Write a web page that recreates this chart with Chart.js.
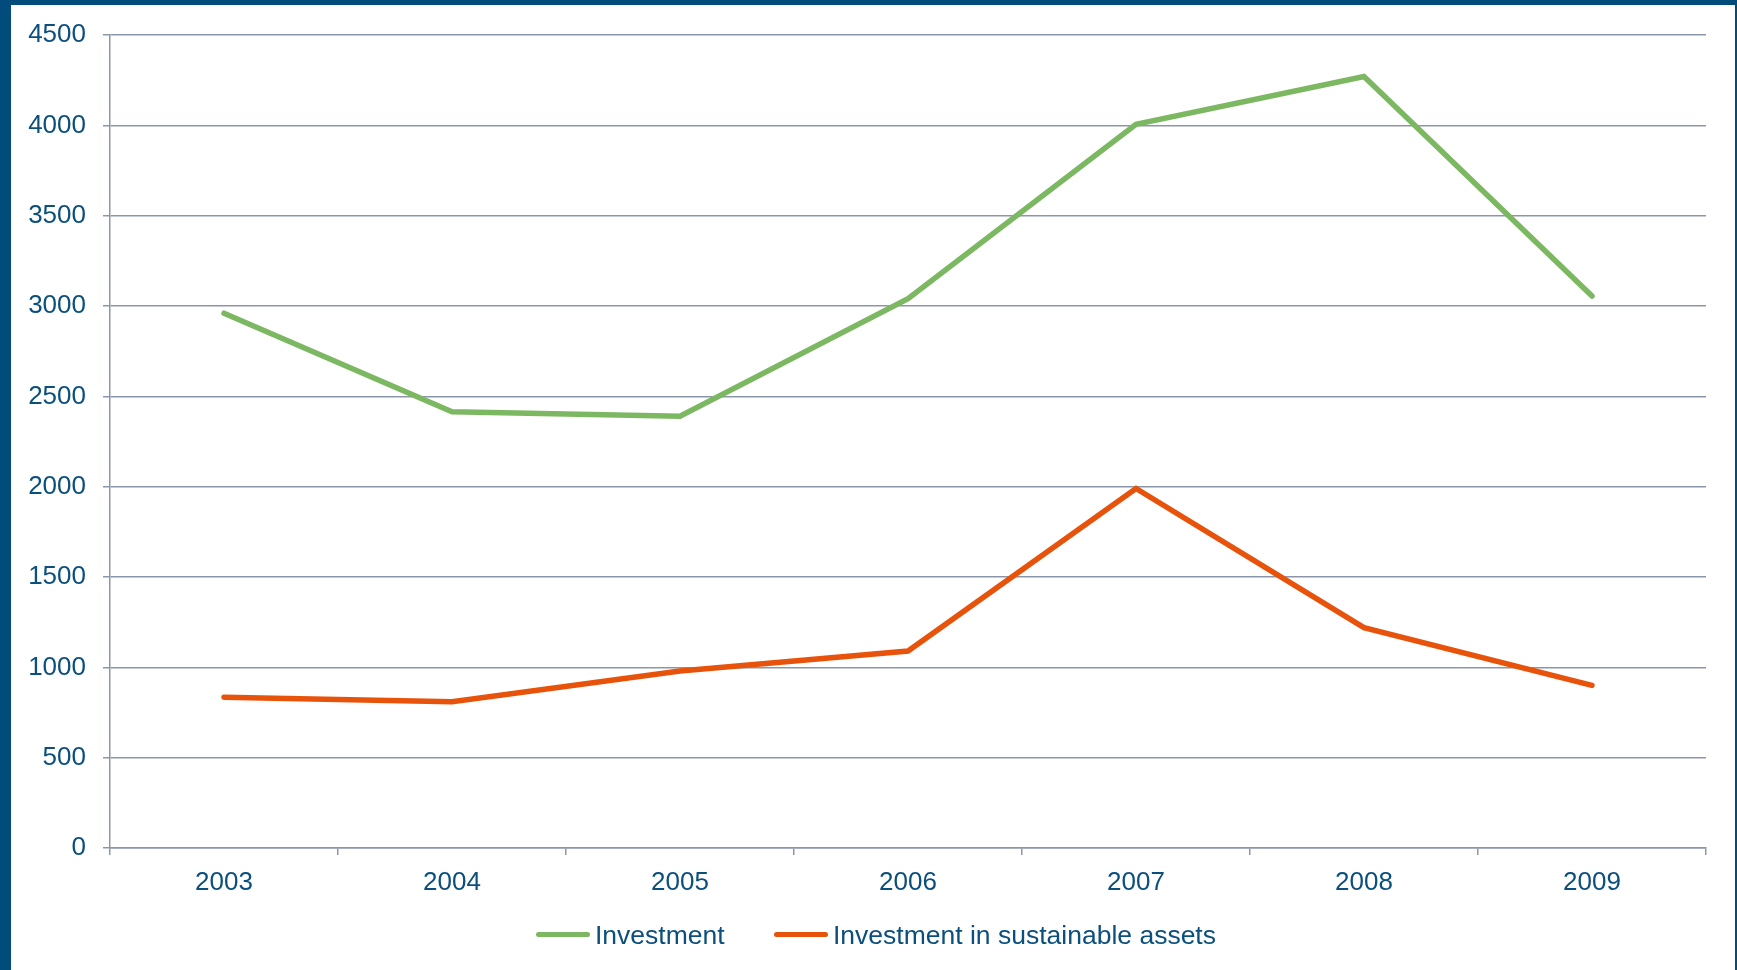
<!DOCTYPE html>
<html>
<head>
<meta charset="utf-8">
<script src="https://cdn.jsdelivr.net/npm/chart.js@4/dist/chart.umd.min.js"></script>
<style>
  body { margin: 0; background: #024c7c; width: 1737px; height: 970px; overflow: hidden; position: relative; font-family: "Liberation Sans", Arial, sans-serif; }
  #paper { position: absolute; left: 11px; top: 5px; width: 1724px; height: 965px; background: #fff; }
  #c { position: absolute; left: 0; top: 0; }
  .key { position: absolute; top: 919px; height: 32px; }
  .key .swatch { position: absolute; left: 0; top: 13px; width: 54px; height: 5px; border-radius: 3px; }
  .key .txt { position: absolute; left: 59px; top: 0; font-size: 26.5px; line-height: 32px; color: #0b4f7d; white-space: nowrap; }
</style>
</head>
<body>
<div id="paper"></div>
<canvas id="c" width="1737" height="970"></canvas>
<div id="legend"></div>
<script>
var years = ['2003', '2004', '2005', '2006', '2007', '2008', '2009'];
var investment = [2960, 2415, 2390, 3040, 4005, 4270, 3055];
var sustainable = [835, 810, 980, 1090, 1990, 1220, 900];
var yTicks = [0, 500, 1000, 1500, 2000, 2500, 3000, 3500, 4000, 4500];

var txtColor = '#0b4f7d';
var gridColor = '#8c96aa';
var font = { family: '"Liberation Sans", Arial, sans-serif', size: 26 };

var chart = new Chart(document.getElementById('c'), {
  type: 'line',
  data: {
    labels: years,
    datasets: [{
      label: 'Investment',
      data: investment,
      borderColor: '#7cb862',
      backgroundColor: '#7cb862',
      borderWidth: 5.5,
      pointRadius: 0,
      tension: 0,
      borderCapStyle: 'round'
    }, {
      label: 'Investment in sustainable assets',
      data: sustainable,
      borderColor: '#e8530c',
      backgroundColor: '#e8530c',
      borderWidth: 5.5,
      pointRadius: 0,
      tension: 0,
      borderCapStyle: 'round'
    }]
  },
  options: {
    responsive: false,
    animation: false,
    layout: { padding: { left: 0, top: 35, right: 31, bottom: 0 } },
    plugins: { legend: { display: false }, tooltip: { enabled: false } },
    scales: {
      x: {
        offset: true,
        grid: { offset: true, drawOnChartArea: false, drawTicks: true, tickLength: 7, color: gridColor, lineWidth: 1.5 },
        border: { color: gridColor, width: 1.5 },
        ticks: { color: txtColor, font: font, padding: 12, maxRotation: 0 },
        afterFit: function (s) { s.height = 122; }
      },
      y: {
        min: 0,
        max: 4500,
        afterBuildTicks: function (s) { s.ticks = yTicks.map(function (v) { return { value: v }; }); },
        grid: { color: gridColor, lineWidth: 1.5, tickLength: 7 },
        border: { color: gridColor, width: 1.5 },
        ticks: { color: txtColor, font: font, padding: 17, callback: function (v) { return String(v); } },
        afterFit: function (s) { s.width = 110; }
      }
    }
  }
});

// legend row under the x axis
var legendPos = [536, 774];
var box = document.getElementById('legend');
chart.data.datasets.forEach(function (ds, i) {
  var item = document.createElement('div');
  item.className = 'key';
  item.style.left = legendPos[i] + 'px';
  var sw = document.createElement('div');
  sw.className = 'swatch';
  sw.style.background = ds.borderColor;
  var t = document.createElement('div');
  t.className = 'txt';
  t.textContent = ds.label;
  item.appendChild(sw);
  item.appendChild(t);
  box.appendChild(item);
});
</script>
</body>
</html>
